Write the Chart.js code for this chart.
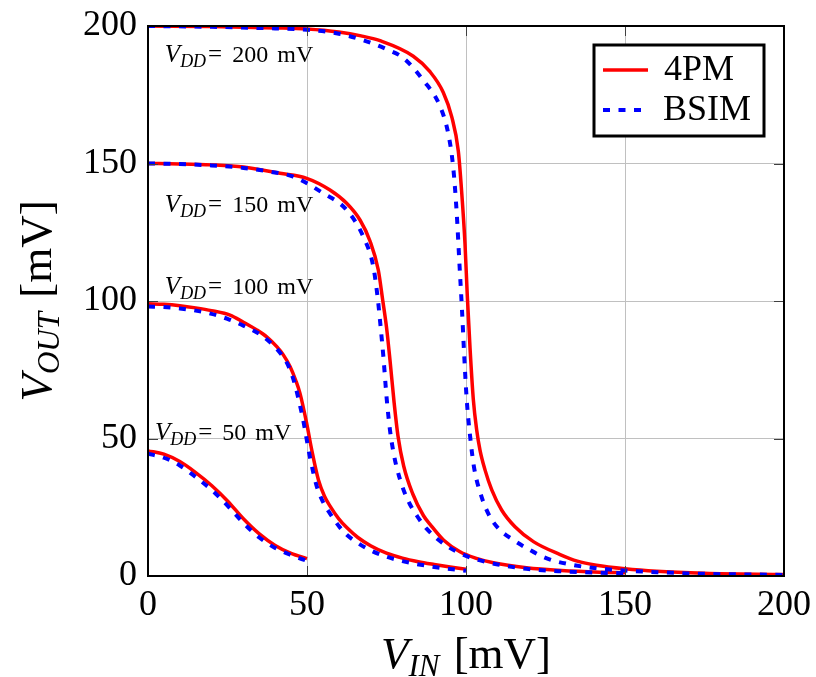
<!DOCTYPE html>
<html>
<head>
<meta charset="utf-8">
<script src="https://cdn.jsdelivr.net/npm/chart.js@4"></script>
<style>
  html, body { margin: 0; padding: 0; background: #ffffff; }
  #wrap { width: 816px; height: 677px; position: relative; }
</style>
</head>
<body>
<div id="wrap"><canvas id="c"></canvas></div>
<script>
// ---- Data ----
const xTicks = [0, 50, 100, 150, 200];
const yTicks = [0, 50, 100, 150, 200];
const seriesNames = ['4PM', 'BSIM'];
const vddLevels = ['200', '150', '100', '50'];

// V_DD = 200 mV
const vinPm200   = [0, 20, 40, 50, 60, 67, 72.96, 83.43, 88.68, 92.86, 95.5, 97.58, 98.65, 99.69, 100.41, 101.26, 102.3, 103.36, 104.4, 106, 108.1, 111.2, 115.4, 121.2, 129.6, 135, 141, 150, 160, 175, 200];
const pm200      = [200, 199.8, 199.3, 198.9, 197.8, 196.4, 194.65, 189.02, 183.38, 175.85, 167.05, 154.55, 139.49, 120.73, 101.85, 83.05, 64.25, 53.1, 45.8, 38.5, 31.3, 24, 17.9, 12.5, 7.8, 5.4, 3.9, 2.6, 1.7, 1.0, 0.5];
const vinBsim200 = [0, 20, 40, 50, 60, 68, 75.06, 80.28, 86.57, 91.82, 94.43, 96.01, 97.08, 97.96, 98.74, 99.43, 100.22, 101.3, 102.5, 104.9, 107.5, 110.7, 114.9, 119.1, 125.4, 133.7, 141.1, 150, 160, 175, 200];
const bsim200    = [200, 199.7, 199.1, 198.6, 197.2, 194.7, 191.53, 188.4, 180.25, 170.84, 160.8, 148.25, 131.96, 113.09, 96.73, 80.36, 64.25, 50.7, 39.7, 28.8, 21.6, 16.7, 13.1, 10.1, 6.4, 4.0, 2.8, 2.0, 1.4, 0.8, 0.4];

// V_DD = 150 mV
const vinPm150   = [0, 10, 20, 30, 41.51, 49.91, 57.23, 62.48, 66.67, 69.81, 72.42, 73.8, 75, 76.1, 77.4, 78.6, 80.4, 83.2, 86.6, 88.7, 93, 98.1, 103, 108.6, 119, 130, 142, 150];
const pm150      = [150, 149.85, 149.5, 148.7, 146.44, 144.62, 140.36, 135.53, 129.45, 121.82, 111.27, 100.4, 90.5, 78.5, 63, 51, 40, 30, 22, 18.8, 13, 8.8, 6.5, 4.8, 3.0, 2.0, 1.4, 1.2];
const vinBsim150 = [0, 10, 20, 30, 38, 45.69, 55.13, 62.48, 67.7, 70.85, 72.3, 73.2, 74, 75.1, 76.1, 77.1, 78.2, 80.3, 82.4, 84.5, 87.6, 93.9, 100, 105, 110, 119, 130, 142, 150];
const bsim150    = [150, 149.8, 149.3, 148.4, 147.1, 145.2, 139.16, 133.09, 123.38, 112.5, 100.4, 90, 80, 64, 53, 45.5, 39.5, 31.5, 26, 22, 17.2, 11, 7.3, 5.5, 4.2, 2.6, 1.7, 1.2, 1.0];

// V_DD = 100 mV
const vinPm100   = [0, 5, 10, 15, 20, 25.8, 30, 34.2, 37.5, 40.5, 42.5, 44.7, 46.5, 47.8, 49.9, 51.5, 53.6, 55.5, 57.2, 60, 62.5, 66, 70, 75, 80, 85, 90, 95, 100];
const pm100      = [99, 98.8, 98.3, 97.5, 96.5, 94.9, 92.3, 89.5, 86.8, 83.4, 80.5, 76.1, 71, 66.4, 55.5, 45.8, 34.9, 29, 25.5, 20.8, 17.6, 14, 11, 8.3, 6.5, 5.2, 4.2, 3.3, 2.5];
const vinBsim100 = [0, 5, 10, 15, 20, 25, 30, 36.3, 42.5, 44.5, 46, 47.5, 48.8, 50.9, 53.1, 55, 57.2, 60, 62.5, 66, 70, 75, 80, 90, 100];
const bsim100    = [98, 97.8, 97.3, 96.5, 95.3, 93.5, 91, 87, 79.7, 75.5, 70.5, 63.5, 56.7, 43.4, 32.5, 27, 22.8, 18.2, 15, 12, 9.3, 7, 5.4, 3.3, 1.9];

// V_DD = 50 mV
const vin50   = [0, 5, 10, 15, 20, 25, 30, 35, 40, 45, 50];
const pm50    = [45.5, 44.3, 41.6, 37.6, 32.9, 27.3, 20.8, 15.3, 11.1, 8.2, 6.3];
const bsim50  = [44.5, 43, 40.2, 36, 31.3, 25.6, 19.3, 14, 10.2, 7.6, 5.5];

// ---- Styling / layout constants (not data) ----
const FONT = "'Liberation Serif', 'DejaVu Serif', serif";
const labelAnchors = [[5.3, 187], [5.3, 132.5], [5.3, 102.5], [2.2, 49.5]];
const RED = '#ff0000';
const BLUE = '#0000ff';
const BLUE_DASH = [7, 8.5];

function pts(xs, ys) { return xs.map((x, i) => ({ x: x, y: ys[i] })); }

const groups = [
  [vinPm200, pm200, vinBsim200, bsim200],
  [vinPm150, pm150, vinBsim150, bsim150],
  [vinPm100, pm100, vinBsim100, bsim100],
  [vin50,    pm50,  vin50,      bsim50]
];

const datasets = [];
groups.forEach((g, i) => {
  datasets.push({
    label: seriesNames[0] + ' ' + vddLevels[i],
    data: pts(g[0], g[1]),
    showLine: true, pointRadius: 0, borderColor: RED, borderWidth: 3.5,
    cubicInterpolationMode: 'monotone', order: 2
  });
});
groups.forEach((g, i) => {
  datasets.push({
    label: seriesNames[1] + ' ' + vddLevels[i],
    data: pts(g[2], g[3]),
    showLine: true, pointRadius: 0, borderColor: BLUE, borderWidth: 4,
    borderDash: BLUE_DASH,
    cubicInterpolationMode: 'monotone', order: 1
  });
});

function drawParts(ctx, parts, x, y, align) {
  let total = 0;
  parts.forEach(p => { ctx.font = p.font; total += ctx.measureText(p.text).width + (p.pad || 0); });
  let cx = align === 'center' ? x - total / 2 : x;
  parts.forEach(p => {
    ctx.font = p.font;
    ctx.fillText(p.text, cx, y + (p.dy || 0));
    cx += ctx.measureText(p.text).width + (p.pad || 0);
  });
}

const decorPlugin = {
  id: 'decor',
  afterDatasetsDraw(chart) {
    const ctx = chart.ctx;
    const a = chart.chartArea;
    const xs = chart.scales.x, ys = chart.scales.y;
    ctx.save();

    // inner ticks on all four sides
    ctx.strokeStyle = '#404040';
    ctx.lineWidth = 1;
    const tl = 10;
    [50, 100, 150].forEach(v => {
      const px = Math.round(xs.getPixelForValue(v)) + 0.5;
      const py = Math.round(ys.getPixelForValue(v)) + 0.5;
      ctx.beginPath();
      ctx.moveTo(px, a.top); ctx.lineTo(px, a.top + tl);
      ctx.moveTo(px, a.bottom); ctx.lineTo(px, a.bottom - tl);
      ctx.moveTo(a.left, py); ctx.lineTo(a.left + tl, py);
      ctx.moveTo(a.right, py); ctx.lineTo(a.right - tl, py);
      ctx.stroke();
    });

    // frame
    ctx.strokeStyle = '#000000';
    ctx.lineWidth = 2;
    ctx.strokeRect(a.left, a.top, a.right - a.left, a.bottom - a.top);

    // V_DD annotations
    ctx.fillStyle = '#000000';
    ctx.textBaseline = 'alphabetic';
    ctx.textAlign = 'left';
    vddLevels.forEach((lv, i) => {
      const px = xs.getPixelForValue(labelAnchors[i][0]);
      const py = ys.getPixelForValue(labelAnchors[i][1]);
      drawParts(ctx, [
        { text: 'V', font: 'italic 25px ' + FONT },
        { text: 'DD', font: 'italic 18px ' + FONT, dy: 5, pad: 2 },
        { text: '=', font: '25px ' + FONT, pad: 10 },
        { text: lv, font: '24px ' + FONT, pad: 9 },
        { text: 'mV', font: '24px ' + FONT }
      ], px, py, 'left');
    });

    // legend
    const lx = a.right - 190, ly = a.top + 19, lw = 170, lh = 91;
    ctx.fillStyle = '#ffffff';
    ctx.fillRect(lx, ly, lw, lh);
    ctx.strokeStyle = '#000000';
    ctx.lineWidth = 3;
    ctx.strokeRect(lx, ly, lw, lh);
    const rows = [ly + 25, ly + 65];
    ctx.lineWidth = 3.5;
    ctx.strokeStyle = RED;
    ctx.beginPath(); ctx.moveTo(lx + 9, rows[0]); ctx.lineTo(lx + 54, rows[0]); ctx.stroke();
    ctx.lineWidth = 4;
    ctx.strokeStyle = BLUE;
    ctx.setLineDash(BLUE_DASH);
    ctx.beginPath(); ctx.moveTo(lx + 9, rows[1]); ctx.lineTo(lx + 54, rows[1]); ctx.stroke();
    ctx.setLineDash([]);
    ctx.fillStyle = '#000000';
    ctx.font = '36px ' + FONT;
    ctx.textBaseline = 'middle';
    ctx.fillText(seriesNames[0], lx + 70, rows[0] + 1);
    ctx.fillText(seriesNames[1], lx + 69, rows[1] + 1);

    // axis titles
    ctx.textBaseline = 'alphabetic';
    drawParts(ctx, [
      { text: 'V', font: 'italic 45px ' + FONT },
      { text: 'IN', font: 'italic 31px ' + FONT, dy: 8, pad: 3 },
      { text: ' [mV]', font: '45px ' + FONT }
    ], (a.left + a.right) / 2, 668, 'center');

    ctx.translate(51, (a.top + a.bottom) / 2);
    ctx.rotate(-Math.PI / 2);
    drawParts(ctx, [
      { text: 'V', font: 'italic 45px ' + FONT },
      { text: 'OUT', font: 'italic 31px ' + FONT, dy: 8, pad: 3 },
      { text: ' [mV]', font: '45px ' + FONT }
    ], 0, 0, 'center');

    ctx.restore();
  }
};

function zeroPad(s) { s.paddingTop = 0; s.paddingBottom = 0; s.paddingLeft = 0; s.paddingRight = 0; }

new Chart(document.getElementById('c'), {
  type: 'scatter',
  data: { datasets: datasets },
  options: {
    responsive: true,
    maintainAspectRatio: false,
    animation: false,
    layout: { padding: { left: 0, right: 32, top: 26, bottom: 0 } },
    plugins: { legend: { display: false }, tooltip: { enabled: false } },
    scales: {
      x: {
        type: 'linear', min: 0, max: 200,
        afterBuildTicks(s) { s.ticks = xTicks.map(v => ({ value: v })); },
        afterFit(s) { s.height = 101; zeroPad(s); },
        border: { display: false },
        grid: {
          drawTicks: false, lineWidth: 1,
          color: ctx => (ctx.tick && (ctx.tick.value === 0 || ctx.tick.value === 200)) ? 'rgba(0,0,0,0)' : '#c0c0c0'
        },
        ticks: { padding: 8, color: '#000000', font: { family: FONT, size: 36 }, maxRotation: 0 }
      },
      y: {
        type: 'linear', min: 0, max: 200,
        afterBuildTicks(s) { s.ticks = yTicks.map(v => ({ value: v })); },
        afterFit(s) { s.width = 148; zeroPad(s); },
        border: { display: false },
        grid: {
          drawTicks: false, lineWidth: 1,
          color: ctx => (ctx.tick && (ctx.tick.value === 0 || ctx.tick.value === 200)) ? 'rgba(0,0,0,0)' : '#c0c0c0'
        },
        ticks: { padding: 11, color: '#000000', font: { family: FONT, size: 36 } }
      }
    }
  },
  plugins: [decorPlugin]
});
</script>
</body>
</html>
